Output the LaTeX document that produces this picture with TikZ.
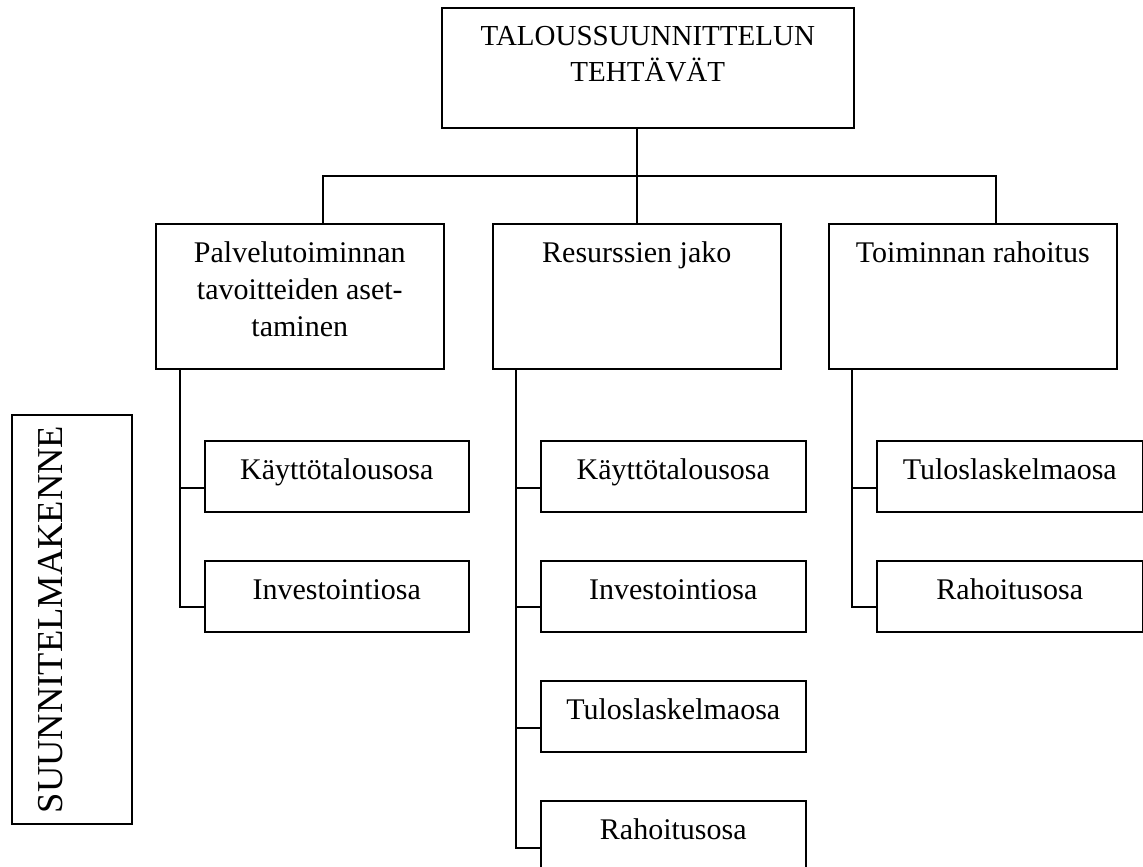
\documentclass[tikz,border=0pt]{standalone}
\usepackage{fontspec}
\setmainfont{Liberation Serif}
\usetikzlibrary{calc}
\newcommand\boxtxt[4]{\parbox[c][#2pt][t]{#1pt}{\centering\rule{0pt}{#3pt}#4\par}}
\newcommand\ftop{\fontsize{29}{36}\selectfont}
\newcommand\fmid{\fontsize{30}{37}\selectfont}
\newcommand\fbig{\fontsize{36.5}{40}\selectfont}
\tikzset{
  bx/.style={draw, line width=1.6pt, inner sep=0pt, anchor=north west},
  ln/.style={line width=1.6pt},
}
\begin{document}
\begin{tikzpicture}[x=1pt,y=-1pt]
\useasboundingbox (0,0) rectangle (1143,867);
% top
\node[bx,font=\ftop] (T) at (441,7) {\boxtxt{412}{120}{38}{TALOUSSUUNNITTELUN\\TEHTÄVÄT}};
% main boxes
\node[bx,font=\fmid] (A) at (155,223) {\boxtxt{288}{145}{38.5}{Palvelutoiminnan\\tavoitteiden aset-\\taminen}};
\node[bx,font=\fmid] (B) at (492,223) {\boxtxt{288}{145}{38.5}{Resurssien jako}};
\node[bx,font=\fmid] (C) at (828,223) {\boxtxt{288}{145}{38.5}{Toiminnan rahoitus}};
% sub boxes
\node[bx,font=\fmid] (A1) at (204,440) {\boxtxt{264}{71}{38.5}{Käyttötalousosa}};
\node[bx,font=\fmid] (A2) at (204,560) {\boxtxt{264}{71}{38.5}{Investointiosa}};
\node[bx,font=\fmid] (B1) at (540,440) {\boxtxt{265}{71}{38.5}{Käyttötalousosa}};
\node[bx,font=\fmid] (B2) at (540,560) {\boxtxt{265}{71}{38.5}{Investointiosa}};
\node[bx,font=\fmid] (B3) at (540,680) {\boxtxt{265}{71}{38.5}{Tuloslaskelmaosa}};
\node[bx,font=\fmid] (B4) at (540,800) {\boxtxt{265}{71}{38.5}{Rahoitusosa}};
\node[bx,font=\fmid] (C1) at (876,440) {\boxtxt{266}{71}{38.5}{Tuloslaskelmaosa}};
\node[bx,font=\fmid] (C2) at (876,560) {\boxtxt{266}{71}{38.5}{Rahoitusosa}};
% side box
\node[bx,font=\fbig,rotate=90,anchor=center] (L) at (72,619.5) {\boxtxt{409}{120}{50}{SUUNNITELMAKENNE}};
% top connectors
\coordinate (bus) at (0,176);
\coordinate (ja) at ($(A.north west)+(168,0)$);
\coordinate (jc) at ($(C.north west)+(168,0)$);
\draw[ln] (B.north) -- (B.north |- T.south);
\draw[ln] (ja) -- (ja |- bus) -- (jc |- bus) -- (jc);
% branch A
\coordinate (av) at ($(A.south west)+(25,0)$);
\coordinate (a1) at ($(A1.north west)+(0,48)$);
\coordinate (a2) at ($(A2.north west)+(0,47)$);
\draw[ln] (av) |- (a2);
\draw[ln] (av |- a1) -- (a1);
% branch B
\coordinate (bv) at ($(B.south west)+(24,0)$);
\coordinate (b1) at ($(B1.north west)+(0,48)$);
\coordinate (b2) at ($(B2.north west)+(0,47)$);
\coordinate (b3) at ($(B3.north west)+(0,48)$);
\coordinate (b4) at ($(B4.north west)+(0,48)$);
\draw[ln] (bv) |- (b4);
\draw[ln] (bv |- b1) -- (b1);
\draw[ln] (bv |- b2) -- (b2);
\draw[ln] (bv |- b3) -- (b3);
% branch C
\coordinate (cv) at ($(C.south west)+(24,0)$);
\coordinate (c1) at ($(C1.north west)+(0,48)$);
\coordinate (c2) at ($(C2.north west)+(0,47)$);
\draw[ln] (cv) |- (c2);
\draw[ln] (cv |- c1) -- (c1);
\end{tikzpicture}
\end{document}
